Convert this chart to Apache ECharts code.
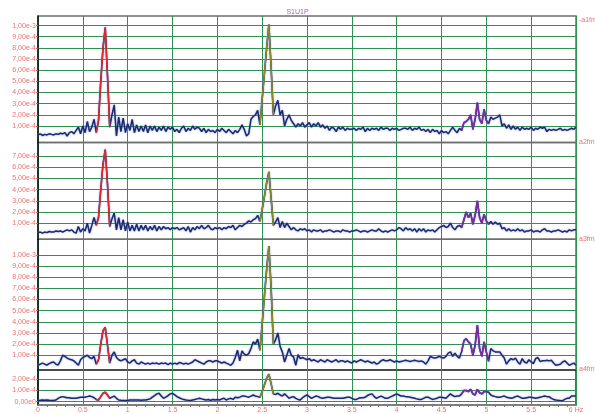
<!DOCTYPE html>
<html lang="en">
<head>
<meta charset="UTF-8">
<title>S1U1P</title>
<script src="https://cdn.jsdelivr.net/npm/echarts@6/dist/echarts.min.js"></script>
<style>
html,body{margin:0;padding:0;background:#fff;}
#main{width:595px;height:414px;}
</style>
</head>
<body>
<div id="main"></div>
<script>
// spectrum bins, 0.025 Hz apart, values in units of 1e-4
const STEP = 0.025;

const a1 = [
 0.2,0.3,0.15,0.25,0.2,0.3,0.25,0.2,0.3,0.25,0.35,0.3,0.4,0.1,0.4,0.5,0.3,0.6,0.9,0.3,1.0,0.4,1.4,0.5,0.9,1.6,0.4,1.5,5.0,8.0,9.85,5.5,0.9,2.0,2.9,0.1,1.8,0.5,1.7,0.4,
 1.2,0.6,1.6,0.4,1.1,0.5,1.0,0.5,1.1,0.4,1.0,0.6,1.0,0.5,0.9,0.6,1.0,0.5,0.9,0.7,0.9,0.5,0.7,0.4,0.8,1.0,0.5,0.8,0.6,1.0,0.7,0.9,0.8,0.5,0.8,0.4,0.7,0.5,0.6,0.4,
 0.7,0.5,0.8,0.6,0.4,0.7,0.5,0.3,0.6,0.4,0.7,1.1,0.7,0.1,0.3,1.6,1.85,2.0,2.4,1.1,3.4,5.7,8.0,10.1,6.2,2.0,2.8,3.3,2.0,2.4,1.0,1.6,2.0,1.5,1.2,0.9,1.2,1.0,1.3,0.9,
 1.1,1.3,0.9,1.2,1.0,1.3,0.9,1.1,0.8,1.0,0.6,0.9,0.8,0.5,0.9,0.7,0.9,0.6,0.8,0.7,0.7,0.8,0.6,0.8,0.7,0.9,0.5,0.8,0.6,0.8,0.7,0.8,0.6,0.9,0.7,0.8,0.8,0.6,0.8,0.7,
 0.8,0.6,0.7,0.8,0.8,0.7,0.9,0.6,0.8,0.7,0.9,0.6,0.7,0.5,0.7,0.4,0.7,0.5,0.6,0.3,0.6,0.4,0.5,0.3,0.6,0.9,0.6,0.4,0.8,0.6,1.3,1.4,1.6,2.0,0.7,1.6,3.1,1.6,1.2,2.5,
 1.5,1.2,1.8,1.6,1.7,1.8,2.0,1.0,1.2,0.8,1.1,0.7,1.0,0.7,0.9,0.6,0.9,0.7,0.8,0.7,0.9,0.6,0.8,0.7,0.9,0.8,0.9,0.5,0.7,0.6,0.7,0.6,0.7,0.8,0.6,0.7,0.6,0.7,0.8,0.7,
 0.9
];
const a2 = [
 0.15,0.2,0.1,0.2,0.15,0.25,0.2,0.2,0.3,0.25,0.3,0.2,0.3,0.4,0.3,0.4,0.2,0.1,0.7,0.2,0.5,0.3,1.0,0.1,0.8,1.5,0.8,1.5,4.0,6.3,7.6,4.5,0.7,1.4,1.9,0.4,1.5,0.4,1.3,0.3,
 1.1,0.3,0.8,0.3,0.9,0.3,0.8,0.4,0.8,0.3,0.7,0.4,0.8,0.3,0.7,0.4,0.7,0.5,0.6,0.4,0.6,0.5,0.6,0.4,0.5,0.6,0.3,0.7,0.2,0.6,0.4,0.7,0.5,0.8,0.5,0.6,0.8,0.5,0.4,0.6,
 0.5,0.6,0.4,0.6,0.5,0.7,0.6,0.8,0.4,0.6,0.8,0.7,0.9,1.0,1.2,1.1,1.3,1.4,1.7,1.15,2.2,3.4,4.6,5.6,3.2,0.8,1.1,1.5,0.6,1.15,0.6,1.0,0.7,0.4,0.6,0.4,0.3,0.5,0.4,0.5,
 0.3,0.4,0.2,0.4,0.3,0.3,0.4,0.2,0.3,0.3,0.4,0.3,0.2,0.3,0.3,0.2,0.4,0.3,0.3,0.2,0.3,0.3,0.4,0.3,0.2,0.3,0.3,0.2,0.3,0.4,0.3,0.3,0.5,0.3,0.2,0.3,0.2,0.3,0.4,0.3,
 0.4,0.6,0.5,0.3,0.6,0.4,0.5,0.3,0.5,0.2,0.5,0.3,0.5,0.2,0.4,0.3,0.4,0.2,0.4,0.6,0.7,0.8,0.6,0.7,1.0,0.6,0.4,0.7,0.8,0.6,1.3,2.0,1.5,1.9,0.9,1.7,3.0,1.5,1.0,1.8,
 1.2,0.9,1.15,0.9,1.1,0.9,1.0,0.5,0.6,0.3,0.5,0.3,0.4,0.3,0.5,0.3,0.4,0.2,0.3,0.3,0.4,0.2,0.3,0.3,0.2,0.4,0.5,0.3,0.3,0.2,0.3,0.3,0.4,0.3,0.2,0.3,0.2,0.4,0.3,0.4,
 0.4
];
const a3 = [
 0.13,0.2,0.3,0.2,0.13,0.25,0.35,0.4,0.2,0.13,0.5,1.0,0.9,0.75,0.65,0.6,0.5,0.3,0.1,0.6,0.8,0.9,1.0,0.8,0.7,0.9,0.2,0.6,2.0,3.2,3.5,1.9,0.3,1.0,1.3,0.8,0.6,0.5,0.6,0.7,
 0.4,0.3,0.5,0.6,0.3,0.2,0.4,0.3,0.2,0.3,0.2,0.3,0.25,0.3,0.2,0.3,0.25,0.3,0.15,0.3,0.2,0.3,0.2,0.35,0.3,0.2,0.3,0.2,0.3,0.4,0.6,0.5,0.4,0.3,0.2,0.4,0.5,0.5,0.4,0.5,
 0.5,0.4,0.3,0.4,0.3,0.2,0.1,0.3,0.8,1.45,0.5,1.4,1.1,1.0,1.15,1.6,2.2,2.0,2.45,1.45,3.8,6.3,8.7,10.8,7.0,2.0,2.4,3.0,1.8,1.3,0.4,1.0,1.6,1.0,0.85,0.1,1.05,0.7,0.8,0.7,
 0.6,0.7,0.5,0.6,0.5,0.4,0.6,0.5,0.4,0.6,0.5,0.4,0.5,0.6,0.4,0.5,0.5,0.4,0.5,0.4,0.3,0.5,0.4,0.5,0.6,0.5,0.4,0.5,0.4,0.3,0.4,0.2,0.3,0.5,0.6,0.5,0.5,0.6,0.5,0.4,
 0.5,0.4,0.45,0.5,0.55,0.5,0.45,0.5,0.55,0.5,0.45,0.5,0.4,0.2,0.5,0.9,0.8,0.75,0.8,0.9,0.8,0.75,0.9,1.2,1.3,0.9,1.2,0.9,0.75,1.35,2.3,2.5,2.2,2.0,1.0,1.9,3.7,1.6,0.9,2.2,
 1.3,0.45,1.6,1.4,1.3,1.3,1.3,1.0,0.75,0.2,0.5,0.7,0.6,0.75,0.4,0.2,0.7,0.4,0.3,0.6,0.4,0.25,0.7,0.8,0.45,0.5,0.5,0.55,0.5,0.55,0.3,0.1,0.15,0.2,0.4,0.5,0.3,0.1,0.2,0.3,
 0.1
];
const a4 = [
 0.1,0.12,0.15,0.12,0.15,0.12,0.1,0.1,0.15,0.3,0.4,0.45,0.4,0.35,0.35,0.3,0.3,0.3,0.35,0.4,0.4,0.4,0.45,0.5,0.45,0.35,0.2,0.15,0.45,0.75,0.85,0.6,0.3,0.4,0.5,0.3,0.15,0.12,0.1,0.1,
 0.1,0.15,0.15,0.15,0.15,0.15,0.12,0.15,0.15,0.2,0.25,0.4,0.55,0.7,0.75,0.5,0.3,0.4,0.55,0.7,0.75,0.6,0.45,0.35,0.25,0.2,0.15,0.12,0.1,0.15,0.2,0.25,0.3,0.25,0.2,0.15,0.2,0.1,0.2,0.15,
 0.2,0.15,0.25,0.3,0.15,0.25,0.3,0.2,0.4,0.35,0.4,0.5,0.5,0.45,0.4,0.5,0.6,0.5,0.45,0.4,0.9,1.5,2.1,2.47,1.6,0.7,0.65,0.75,0.6,0.5,0.7,0.5,0.3,0.4,0.45,0.3,0.2,0.15,0.35,0.5,
 0.6,0.45,0.3,0.4,0.5,0.45,0.35,0.3,0.35,0.4,0.4,0.35,0.3,0.3,0.3,0.3,0.3,0.35,0.4,0.4,0.3,0.2,0.2,0.3,0.35,0.35,0.4,0.55,0.65,0.7,0.45,0.3,0.4,0.5,0.4,0.3,0.3,0.4,0.5,0.6,
 0.7,0.6,0.5,0.5,0.45,0.45,0.4,0.35,0.3,0.25,0.2,0.2,0.3,0.4,0.4,0.3,0.2,0.25,0.3,0.4,0.4,0.35,0.3,0.5,0.7,0.55,0.45,0.5,0.5,0.7,1.0,1.0,0.9,1.1,0.7,0.6,1.1,0.8,0.7,0.9,
 0.9,0.85,0.6,0.5,0.45,0.4,0.4,0.45,0.5,0.4,0.35,0.3,0.35,0.45,0.5,0.4,0.3,0.3,0.35,0.4,0.4,0.35,0.3,0.35,0.4,0.45,0.5,0.45,0.45,0.3,0.2,0.15,0.12,0.1,0.09,0.2,0.3,0.3,0.5,0.5,
 0.5
];

const channels = ['a1fm', 'a2fm', 'a3fm', 'a4fm'];
const spectra = [a1, a2, a3, a4];
// labelled y ticks per panel (x 1e-4)
const yTicks = [
  [1, 2, 3, 4, 5, 6, 7, 8, 9, 10],
  [1, 2, 3, 4, 5, 6, 7],
  [1, 2, 3, 4, 5, 6, 7, 8, 9, 10],
  [0, 1, 2]
];
const yRange = [[-0.48, 10.86], [-0.45, 8.23], [-0.32, 11.4], [-0.3, 2.84]];
const xTickLabels = ['0', '0.5', '1', '1.5', '2', '2.5', '3', '3.5', '4', '4.5', '5', '5.5', '6 Hz'];
// highlighted bin ranges [from, to] and their colours
const peaks = [[26, 32, '#e3262b'], [99, 105, '#8a8a26'], [189, 201, '#7b2d9b']];

const tops = [16, 142.5, 239.3, 370];
const heights = [126.5, 96.8, 130.7, 35];
const LEFT = 38, RIGHT = 19;
const labelColor = '#f06e6e';
const gridGreen = '#2f9150';

function fmtY(v) {
  return (v * 1e-4).toExponential(2).replace('.', ',').replace('e+', 'e');
}

const chart = echarts.init(document.getElementById('main'), null, {renderer: 'canvas'});

const grid = [], xAxis = [], yAxis = [], series = [], graphic = [];
spectra.forEach(function (arr, p) {
  const last = p === spectra.length - 1;
  grid.push({left: LEFT, right: RIGHT, top: tops[p], height: heights[p],
    show: true, borderColor: p === 3 ? '#333' : '#6f6f6f', borderWidth: 1.5, backgroundColor: 'transparent'});
  xAxis.push({
    type: 'value', gridIndex: p, min: 0, max: 6, interval: 0.5,
    axisLine: {show: last, onZero: false, lineStyle: {color: '#888', width: 1.5}},
    axisTick: {show: false},
    minorTick: {show: last, splitNumber: 5, length: 2, lineStyle: {color: '#777'}},
    splitLine: {show: true, lineStyle: {color: gridGreen, width: 1}},
    axisLabel: {show: last, color: labelColor, fontSize: 7, fontFamily: 'Liberation Sans', margin: 2,
      formatter: function (v) { return xTickLabels[Math.round(v / 0.5)]; }}
  });
  yAxis.push({
    type: 'value', gridIndex: p, min: yRange[p][0], max: yRange[p][1],
    axisLine: {show: true, lineStyle: {color: '#111', width: 1.5}},
    axisTick: {show: true, length: 2, customValues: yTicks[p], lineStyle: {color: '#e06060'}},
    splitLine: {show: true, lineStyle: {color: gridGreen, width: 1}},
    axisLabel: {color: labelColor, fontSize: 7, fontFamily: 'Liberation Sans', margin: 2,
      customValues: yTicks[p], formatter: fmtY}
  });
  const pts = arr.map(function (v, i) { return [i * STEP, v]; });
  series.push({
    type: 'line', xAxisIndex: p, yAxisIndex: p, data: pts, symbol: 'none', silent: true,
    lineStyle: {color: '#1d2a6f', width: 1.5, shadowColor: 'rgba(120,140,210,0.9)', shadowBlur: 2}
  });
  peaks.forEach(function (pk) {
    series.push({
      type: 'line', xAxisIndex: p, yAxisIndex: p, data: pts.slice(pk[0], pk[1] + 1),
      symbol: 'none', silent: true, z: 3,
      lineStyle: {color: pk[2], width: 1.5}
    });
  });
  graphic.push({
    type: 'text', left: 595 - RIGHT + 3, top: tops[p] - (p === 0 ? -1 : 4),
    style: {text: (p === 0 ? '-' : '') + channels[p], fill: labelColor, fontSize: 7, fontFamily: 'Liberation Sans'}
  });
});

chart.setOption({
  animation: false,
  backgroundColor: '#fff',
  title: {text: 'S1U1P', left: 'center', top: 4,
    textStyle: {color: '#a35fbf', fontSize: 7, fontWeight: 'normal', fontFamily: 'Liberation Sans'}},
  grid: grid,
  xAxis: xAxis,
  yAxis: yAxis,
  series: series,
  graphic: graphic
});
</script>
</body>
</html>
